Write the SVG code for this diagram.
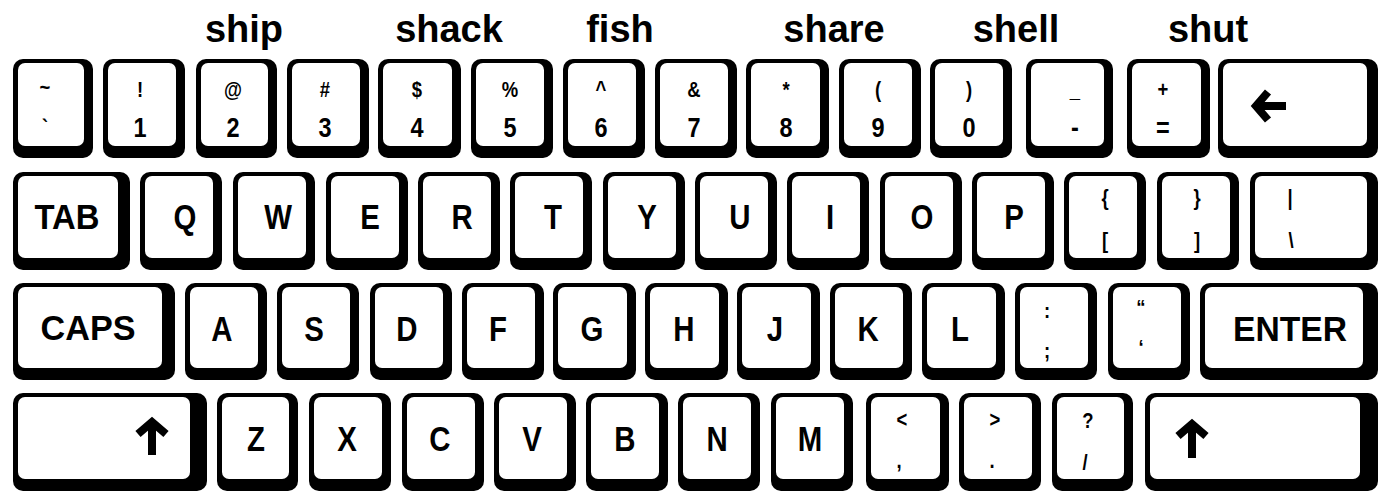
<svg xmlns="http://www.w3.org/2000/svg" width="1383" height="495" viewBox="0 0 1383 495">
<style>
.ko{fill:#000}
.kf{fill:#fff}
text{font-family:"Liberation Sans",Arial,sans-serif;font-weight:bold;fill:#000}
.tt{font-size:38px;text-anchor:middle}
.lb,.wd{font-size:35px;text-anchor:middle}
.dg{font-size:28px;text-anchor:middle}
.sm{font-size:22px;text-anchor:middle}
.lb,.dg,.sm{transform-box:fill-box;transform-origin:center;transform:scaleX(0.84)}
.ar{fill:none;stroke:#000;stroke-width:8;stroke-linejoin:miter;stroke-miterlimit:10}
</style>
<rect width="1383" height="495" fill="#fff"/>
<g id="titles">
<text class="tt" x="244" y="42">ship</text>
<text class="tt" x="449" y="42">shack</text>
<text class="tt" x="620" y="42">fish</text>
<text class="tt" x="834" y="42">share</text>
<text class="tt" x="1016" y="42">shell</text>
<text class="tt" x="1208" y="42">shut</text>
</g>
<g id="connectors"/>
<!-- Row 1 -->
<g id="key-tilde"><rect class="ko" x="13" y="59" width="80" height="99" rx="10"/><rect class="kf" x="18" y="63" width="66" height="83" rx="7"/><text class="sm" x="45" y="95">~</text><text class="sm" x="45" y="135">`</text></g>
<g id="key-1"><rect class="ko" x="103" y="59" width="82" height="99" rx="10"/><rect class="kf" x="108" y="63" width="68" height="83" rx="7"/><text class="sm" x="140" y="97">!</text><text class="dg" x="140" y="137">1</text></g>
<g id="key-2"><rect class="ko" x="196" y="59" width="81" height="99" rx="10"/><rect class="kf" x="201" y="63" width="67" height="83" rx="7"/><text class="sm" x="233" y="97">@</text><text class="dg" x="233" y="137">2</text></g>
<g id="key-3"><rect class="ko" x="287" y="59" width="82" height="99" rx="10"/><rect class="kf" x="292" y="63" width="68" height="83" rx="7"/><text class="sm" x="325" y="97">#</text><text class="dg" x="325" y="137">3</text></g>
<g id="key-4"><rect class="ko" x="378" y="59" width="83" height="99" rx="10"/><rect class="kf" x="383" y="63" width="69" height="83" rx="7"/><text class="sm" x="417" y="97">$</text><text class="dg" x="417" y="137">4</text></g>
<g id="key-5"><rect class="ko" x="471" y="59" width="82" height="99" rx="10"/><rect class="kf" x="476" y="63" width="68" height="83" rx="7"/><text class="sm" x="510" y="97">%</text><text class="dg" x="510" y="137">5</text></g>
<g id="key-6"><rect class="ko" x="563" y="59" width="82" height="99" rx="10"/><rect class="kf" x="568" y="63" width="68" height="83" rx="7"/><text class="sm" x="601" y="97">^</text><text class="dg" x="601" y="137">6</text></g>
<g id="key-7"><rect class="ko" x="655" y="59" width="82" height="99" rx="10"/><rect class="kf" x="660" y="63" width="68" height="83" rx="7"/><text class="sm" x="694" y="97">&amp;</text><text class="dg" x="694" y="137">7</text></g>
<g id="key-8"><rect class="ko" x="746" y="59" width="83" height="99" rx="10"/><rect class="kf" x="751" y="63" width="69" height="83" rx="7"/><text class="sm" x="786" y="97">*</text><text class="dg" x="786" y="137">8</text></g>
<g id="key-9"><rect class="ko" x="839" y="59" width="82" height="99" rx="10"/><rect class="kf" x="844" y="63" width="68" height="83" rx="7"/><text class="sm" x="878" y="97">(</text><text class="dg" x="878" y="137">9</text></g>
<g id="key-0"><rect class="ko" x="930" y="59" width="82" height="99" rx="10"/><rect class="kf" x="935" y="63" width="68" height="83" rx="7"/><text class="sm" x="969" y="97">)</text><text class="dg" x="969" y="137">0</text></g>
<g id="key-minus"><rect class="ko" x="1026" y="59" width="87" height="99" rx="10"/><rect class="kf" x="1031" y="63" width="73" height="83" rx="7"/><text class="sm" x="1075" y="97">_</text><text class="dg" x="1075" y="137">-</text></g>
<g id="key-equals"><rect class="ko" x="1127" y="59" width="83" height="99" rx="10"/><rect class="kf" x="1132" y="63" width="69" height="83" rx="7"/><text class="sm" x="1163" y="97">+</text><text class="dg" x="1163" y="137">=</text></g>
<g id="key-backspace"><rect class="ko" x="1218" y="59" width="160" height="99" rx="10"/><rect class="kf" x="1223" y="63" width="144" height="83" rx="7"/><polyline class="ar" points="1268,92 1256,106 1268,120"/><line class="ar" x1="1258" y1="106" x2="1286" y2="106"/></g>
<!-- Row 2 -->
<g id="key-tab"><rect class="ko" x="13" y="172" width="117" height="98" rx="10"/><rect class="kf" x="18" y="176" width="100" height="82" rx="7"/><text class="wd" x="67" y="229" textLength="65" lengthAdjust="spacingAndGlyphs">TAB</text></g>
<g id="key-q"><rect class="ko" x="140" y="172" width="82" height="98" rx="10"/><rect class="kf" x="145" y="176" width="68" height="82" rx="7"/><text class="lb" x="185" y="229">Q</text></g>
<g id="key-w"><rect class="ko" x="233" y="172" width="82" height="98" rx="10"/><rect class="kf" x="238" y="176" width="68" height="82" rx="7"/><text class="lb" x="278" y="229">W</text></g>
<g id="key-e"><rect class="ko" x="326" y="172" width="82" height="98" rx="10"/><rect class="kf" x="331" y="176" width="68" height="82" rx="7"/><text class="lb" x="370" y="229">E</text></g>
<g id="key-r"><rect class="ko" x="418" y="172" width="82" height="98" rx="10"/><rect class="kf" x="423" y="176" width="68" height="82" rx="7"/><text class="lb" x="462" y="229">R</text></g>
<g id="key-t"><rect class="ko" x="510" y="172" width="82" height="98" rx="10"/><rect class="kf" x="515" y="176" width="68" height="82" rx="7"/><text class="lb" x="553" y="229">T</text></g>
<g id="key-y"><rect class="ko" x="603" y="172" width="82" height="98" rx="10"/><rect class="kf" x="608" y="176" width="68" height="82" rx="7"/><text class="lb" x="647" y="229">Y</text></g>
<g id="key-u"><rect class="ko" x="695" y="172" width="82" height="98" rx="10"/><rect class="kf" x="700" y="176" width="68" height="82" rx="7"/><text class="lb" x="740" y="229">U</text></g>
<g id="key-i"><rect class="ko" x="787" y="172" width="82" height="98" rx="10"/><rect class="kf" x="792" y="176" width="68" height="82" rx="7"/><text class="lb" x="830" y="229">I</text></g>
<g id="key-o"><rect class="ko" x="880" y="172" width="82" height="98" rx="10"/><rect class="kf" x="885" y="176" width="68" height="82" rx="7"/><text class="lb" x="922" y="229">O</text></g>
<g id="key-p"><rect class="ko" x="972" y="172" width="82" height="98" rx="10"/><rect class="kf" x="977" y="176" width="68" height="82" rx="7"/><text class="lb" x="1014" y="229">P</text></g>
<g id="key-lbracket"><rect class="ko" x="1064" y="172" width="82" height="98" rx="10"/><rect class="kf" x="1069" y="176" width="68" height="82" rx="7"/><text class="sm" x="1105" y="205">{</text><text class="sm" x="1105" y="248">[</text></g>
<g id="key-rbracket"><rect class="ko" x="1157" y="172" width="82" height="98" rx="10"/><rect class="kf" x="1162" y="176" width="68" height="82" rx="7"/><text class="sm" x="1197" y="205">}</text><text class="sm" x="1197" y="248">]</text></g>
<g id="key-backslash"><rect class="ko" x="1250" y="172" width="128" height="98" rx="10"/><rect class="kf" x="1255" y="176" width="112" height="82" rx="7"/><text class="sm" x="1290" y="205">|</text><text class="sm" x="1291" y="248">\</text></g>
<!-- Row 3 -->
<g id="key-caps"><rect class="ko" x="13" y="283" width="162" height="97" rx="10"/><rect class="kf" x="18" y="287" width="144" height="81" rx="7"/><text class="wd" x="88" y="340" textLength="95" lengthAdjust="spacingAndGlyphs">CAPS</text></g>
<g id="key-a"><rect class="ko" x="185" y="283" width="82" height="97" rx="10"/><rect class="kf" x="190" y="287" width="68" height="81" rx="7"/><text class="lb" x="222" y="341">A</text></g>
<g id="key-s"><rect class="ko" x="277" y="283" width="82" height="97" rx="10"/><rect class="kf" x="282" y="287" width="68" height="81" rx="7"/><text class="lb" x="314" y="341">S</text></g>
<g id="key-d"><rect class="ko" x="370" y="283" width="82" height="97" rx="10"/><rect class="kf" x="375" y="287" width="68" height="81" rx="7"/><text class="lb" x="407" y="341">D</text></g>
<g id="key-f"><rect class="ko" x="462" y="283" width="82" height="97" rx="10"/><rect class="kf" x="467" y="287" width="68" height="81" rx="7"/><text class="lb" x="498" y="341">F</text></g>
<g id="key-g"><rect class="ko" x="553" y="283" width="83" height="97" rx="10"/><rect class="kf" x="558" y="287" width="69" height="81" rx="7"/><text class="lb" x="592" y="341">G</text></g>
<g id="key-h"><rect class="ko" x="645" y="283" width="83" height="97" rx="10"/><rect class="kf" x="650" y="287" width="69" height="81" rx="7"/><text class="lb" x="684" y="341">H</text></g>
<g id="key-j"><rect class="ko" x="737" y="283" width="83" height="97" rx="10"/><rect class="kf" x="742" y="287" width="69" height="81" rx="7"/><text class="lb" x="775" y="341">J</text></g>
<g id="key-k"><rect class="ko" x="830" y="283" width="82" height="97" rx="10"/><rect class="kf" x="835" y="287" width="68" height="81" rx="7"/><text class="lb" x="868" y="341">K</text></g>
<g id="key-l"><rect class="ko" x="922" y="283" width="83" height="97" rx="10"/><rect class="kf" x="927" y="287" width="69" height="81" rx="7"/><text class="lb" x="960" y="341">L</text></g>
<g id="key-semicolon"><rect class="ko" x="1015" y="283" width="82" height="97" rx="10"/><rect class="kf" x="1020" y="287" width="68" height="81" rx="7"/><text class="sm" x="1047" y="318">:</text><text class="sm" x="1047" y="358">;</text></g>
<g id="key-quote"><rect class="ko" x="1108" y="283" width="82" height="97" rx="10"/><rect class="kf" x="1113" y="287" width="68" height="81" rx="7"/><text class="sm" x="1141" y="315">“</text><text class="sm" x="1141" y="355">‘</text></g>
<g id="key-enter"><rect class="ko" x="1200" y="283" width="178" height="97" rx="10"/><rect class="kf" x="1205" y="287" width="158" height="81" rx="7"/><text class="wd" x="1290" y="341" textLength="114" lengthAdjust="spacingAndGlyphs">ENTER</text></g>
<!-- Row 4 -->
<g id="key-lshift"><rect class="ko" x="13" y="393" width="194" height="98" rx="10"/><rect class="kf" x="18" y="397" width="172" height="82" rx="7"/><polyline class="ar" points="138,434 152,422 166,434"/><line class="ar" x1="152" y1="424" x2="152" y2="455"/></g>
<g id="key-z"><rect class="ko" x="217" y="393" width="81" height="98" rx="10"/><rect class="kf" x="222" y="397" width="67" height="82" rx="7"/><text class="lb" x="256" y="451">Z</text></g>
<g id="key-x"><rect class="ko" x="309" y="393" width="82" height="98" rx="10"/><rect class="kf" x="314" y="397" width="68" height="82" rx="7"/><text class="lb" x="347" y="451">X</text></g>
<g id="key-c"><rect class="ko" x="402" y="393" width="82" height="98" rx="10"/><rect class="kf" x="407" y="397" width="68" height="82" rx="7"/><text class="lb" x="440" y="451">C</text></g>
<g id="key-v"><rect class="ko" x="494" y="393" width="82" height="98" rx="10"/><rect class="kf" x="499" y="397" width="68" height="82" rx="7"/><text class="lb" x="532" y="451">V</text></g>
<g id="key-b"><rect class="ko" x="586" y="393" width="82" height="98" rx="10"/><rect class="kf" x="591" y="397" width="68" height="82" rx="7"/><text class="lb" x="625" y="451">B</text></g>
<g id="key-n"><rect class="ko" x="678" y="393" width="82" height="98" rx="10"/><rect class="kf" x="683" y="397" width="68" height="82" rx="7"/><text class="lb" x="717" y="451">N</text></g>
<g id="key-m"><rect class="ko" x="771" y="393" width="82" height="98" rx="10"/><rect class="kf" x="776" y="397" width="68" height="82" rx="7"/><text class="lb" x="810" y="451">M</text></g>
<g id="key-comma"><rect class="ko" x="866" y="393" width="83" height="98" rx="10"/><rect class="kf" x="871" y="397" width="69" height="82" rx="7"/><text class="sm" x="902" y="427">&lt;</text><text class="sm" x="899" y="468">,</text></g>
<g id="key-period"><rect class="ko" x="959" y="393" width="82" height="98" rx="10"/><rect class="kf" x="964" y="397" width="68" height="82" rx="7"/><text class="sm" x="995" y="427">&gt;</text><text class="sm" x="992" y="468">.</text></g>
<g id="key-slash"><rect class="ko" x="1052" y="393" width="81" height="98" rx="10"/><rect class="kf" x="1057" y="397" width="67" height="82" rx="7"/><text class="sm" x="1088" y="428">?</text><text class="sm" x="1085" y="470">/</text></g>
<g id="key-rshift"><rect class="ko" x="1145" y="393" width="233" height="98" rx="10"/><rect class="kf" x="1150" y="397" width="210" height="82" rx="7"/><polyline class="ar" points="1178,436 1192,424 1206,436"/><line class="ar" x1="1192" y1="426" x2="1192" y2="458"/></g>
</svg>
